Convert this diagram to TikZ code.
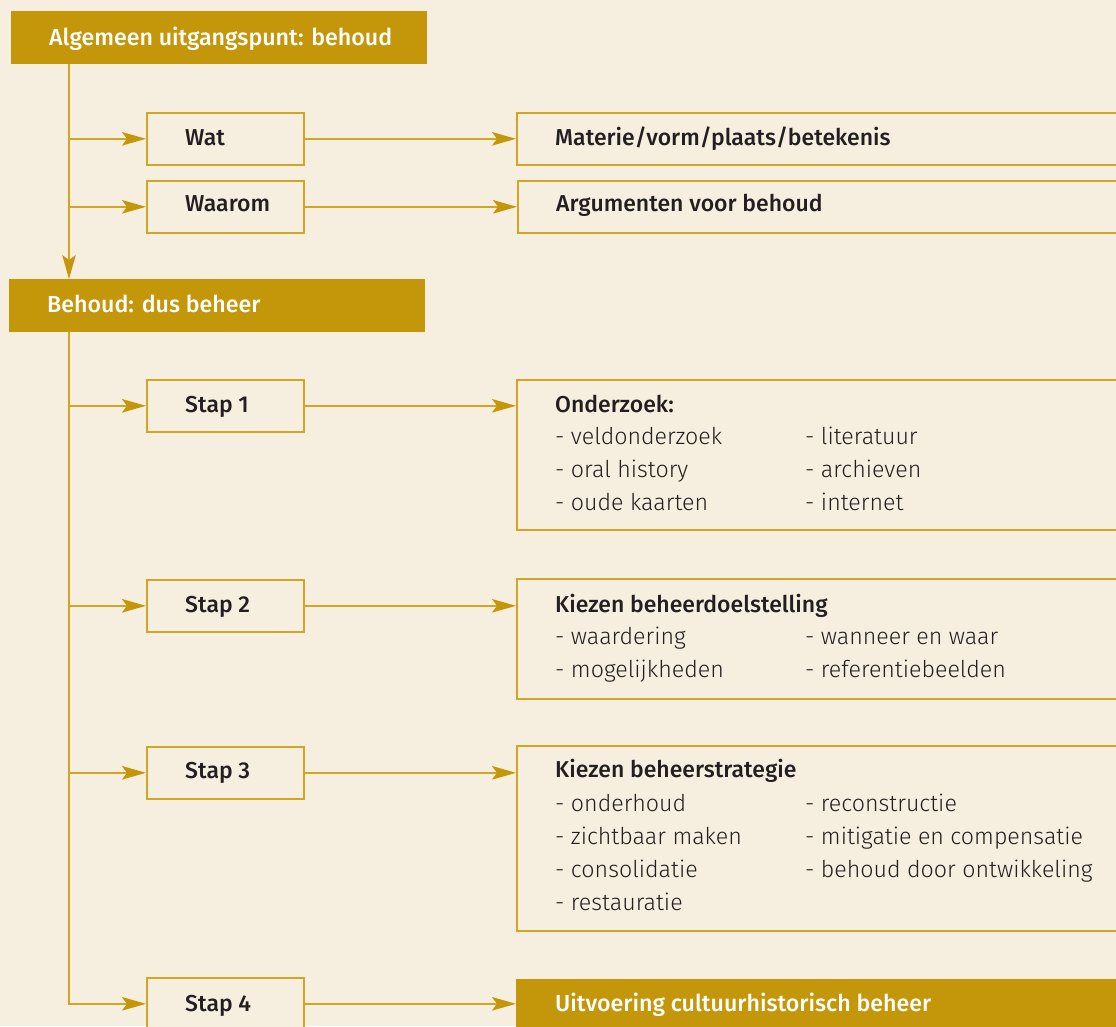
\documentclass[tikz,border=0pt]{standalone}
\usepackage{fontspec}
\setmainfont{Fira Sans Light}[BoldFont={Fira Sans Medium}]
\usetikzlibrary{arrows.meta}
\definecolor{bg}{RGB}{246,239,223}
\definecolor{gold}{RGB}{196,150,10}
\definecolor{goldline}{RGB}{210,165,35}
\definecolor{ink}{RGB}{35,31,32}
\begin{document}
\begin{tikzpicture}[x=1pt,y=-1pt,
  headbox/.style={fill=gold, draw=none, inner sep=0pt, anchor=north west, minimum width=416pt, minimum height=53pt},
  stepbox/.style={draw=goldline, line width=1.6pt, fill=bg, inner sep=0pt, anchor=north west, minimum width=157pt, minimum height=52pt},
  infobox/.style={draw=goldline, line width=1.6pt, fill=bg, inner sep=0pt, anchor=north west, minimum width=640pt},
  headtxt/.style={anchor=base west, inner sep=0pt, text=white, font=\bfseries\fontsize{23.2}{27}\selectfont},
  boldtxt/.style={anchor=base west, inner sep=0pt, text=ink, font=\bfseries\fontsize{23}{27}\selectfont},
  itemtxt/.style={anchor=base west, inner sep=0pt, text=ink, font=\fontsize{23.2}{27}\selectfont},
  conn/.style={draw=goldline, line width=2pt, -{Stealth[length=24pt,width=13.5pt,inset=5pt,color=gold]}}
]
\useasboundingbox (0,0) rectangle (1116,1026);
\clip (0,0) rectangle (1116,1026);
\fill[bg] (0,0) rectangle (1116,1026);

% header boxes
\node[headbox] (algemeen) at (11,11) {};
\node[headtxt] (algemeenT) at (49,45) {Algemeen uitgangspunt: behoud};
\node[headbox] (behoud) at (9,279) {};
\node[headtxt] (behoudT) at (47,312) {Behoud: dus beheer};

% step boxes
\node[stepbox] (wat) at (146,112) {};
\node[boldtxt] at (185,145) {Wat};
\node[stepbox] (waarom) at (146,180) {};
\node[boldtxt] at (185,211) {Waarom};
\node[stepbox] (stap1) at (146,379) {};
\node[boldtxt] at (185,412) {Stap 1};
\node[stepbox] (stap2) at (146,579) {};
\node[boldtxt] at (185,612) {Stap 2};
\node[stepbox] (stap3) at (146,746) {};
\node[boldtxt] at (185,778) {Stap 3};
\node[stepbox] (stap4) at (146,977) {};
\node[boldtxt] at (185,1011) {Stap 4};

% info boxes
\node[infobox, minimum height=52pt] (materie) at (516,112) {};
\node[boldtxt] at (555,145) {Materie/vorm/plaats/betekenis};
\node[infobox, minimum height=52pt] (argumenten) at (517,180) {};
\node[boldtxt] at (556,211) {Argumenten voor behoud};

\node[infobox, minimum height=150pt] (onderzoek) at (516,379) {};
\node[boldtxt] at (555,412) {Onderzoek:};
\node[itemtxt] at (555,444.3) {- veldonderzoek};
\node[itemtxt] at (555,477.6) {- oral history};
\node[itemtxt] at (555,510.9) {- oude kaarten};
\node[itemtxt] at (805,444.3) {- literatuur};
\node[itemtxt] at (805,477.6) {- archieven};
\node[itemtxt] at (805,510.9) {- internet};

\node[infobox, minimum height=120pt] (doel) at (516,578) {};
\node[boldtxt] at (555,612) {Kiezen beheerdoelstelling};
\node[itemtxt] at (555,644.3) {- waardering};
\node[itemtxt] at (555,677.6) {- mogelijkheden};
\node[itemtxt] at (805,644.3) {- wanneer en waar};
\node[itemtxt] at (805,677.6) {- referentiebeelden};

\node[infobox, minimum height=185pt] (strategie) at (516,745) {};
\node[boldtxt] at (555,777.5) {Kiezen beheerstrategie};
\node[itemtxt] at (555,811) {- onderhoud};
\node[itemtxt] at (555,844.3) {- zichtbaar maken};
\node[itemtxt] at (555,877.6) {- consolidatie};
\node[itemtxt] at (555,910.9) {- restauratie};
\node[itemtxt] at (805,811) {- reconstructie};
\node[itemtxt] at (805,844.3) {- mitigatie en compensatie};
\node[itemtxt] at (805,877.6) {- behoud door ontwikkeling};

\node[fill=gold, draw=none, inner sep=0pt, anchor=north west, minimum width=640pt, minimum height=60pt] (uitvoering) at (516,979) {};
\node[headtxt] at (555,1011) {Uitvoering cultuurhistorisch beheer};

% spine 1
\coordinate (s1) at ([xshift=58pt]algemeen.south west);
\draw[conn] (s1) -- (s1 |- behoud.north);
\draw[conn] (s1 |- wat.west) -- (wat.west);
\draw[conn] (s1 |- waarom.west) -- (waarom.west);
\draw[conn] (wat.east) -- (wat.east -| materie.west);
\draw[conn] (waarom.east) -- (waarom.east -| argumenten.west);

% spine 2
\coordinate (s2) at ([xshift=60pt]behoud.south west);
\draw[conn] (s2) -- (s2 |- stap4.west) -- (stap4.west);
\draw[conn] (s2 |- stap1.west) -- (stap1.west);
\draw[conn] (s2 |- stap2.west) -- (stap2.west);
\draw[conn] (s2 |- stap3.west) -- (stap3.west);
\draw[conn] (stap1.east) -- (stap1.east -| onderzoek.west);
\draw[conn] (stap2.east) -- (stap2.east -| doel.west);
\draw[conn] (stap3.east) -- (stap3.east -| strategie.west);
\draw[conn] (stap4.east) -- (stap4.east -| uitvoering.west);
\end{tikzpicture}
\end{document}
